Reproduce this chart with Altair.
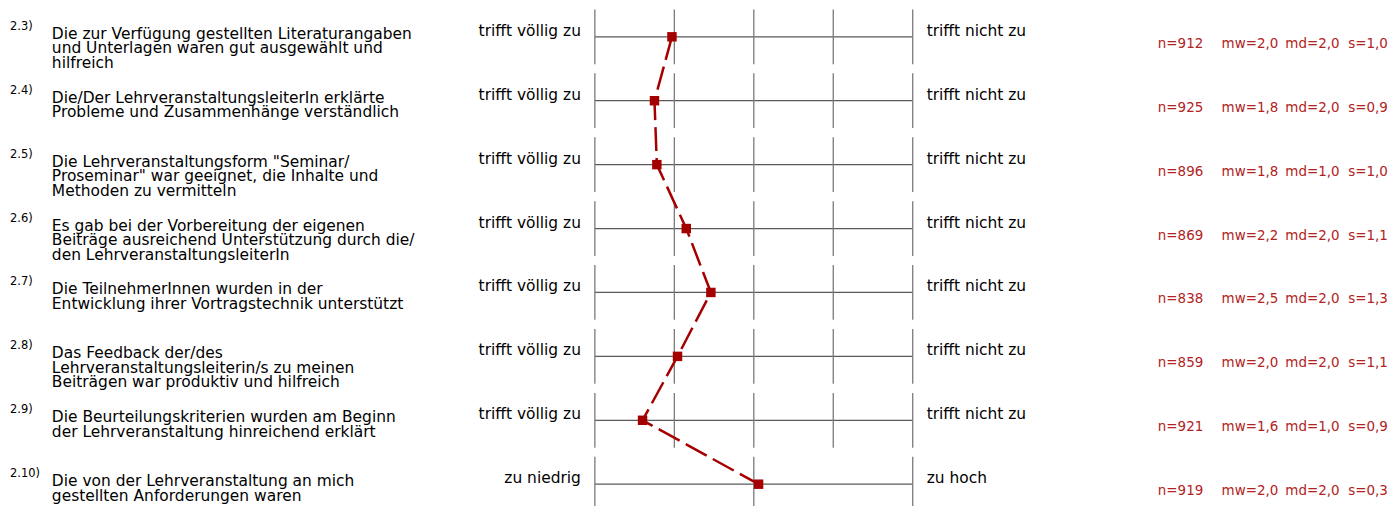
import altair as alt
import pandas as pd

numbers = ["2.3)", "2.4)", "2.5)", "2.6)", "2.7)", "2.8)", "2.9)", "2.10)"]
questions = [
    "Die zur Verfügung gestellten Literaturangaben\nund Unterlagen waren gut ausgewählt und\nhilfreich",
    "Die/Der LehrveranstaltungsleiterIn erklärte\nProbleme und Zusammenhänge verständlich",
    "Die Lehrveranstaltungsform \"Seminar/\nProseminar\" war geeignet, die Inhalte und\nMethoden zu vermitteln",
    "Es gab bei der Vorbereitung der eigenen\nBeiträge ausreichend Unterstützung durch die/\nden LehrveranstaltungsleiterIn",
    "Die TeilnehmerInnen wurden in der\nEntwicklung ihrer Vortragstechnik unterstützt",
    "Das Feedback der/des\nLehrveranstaltungsleiterin/s zu meinen\nBeiträgen war produktiv und hilfreich",
    "Die Beurteilungskriterien wurden am Beginn\nder Lehrveranstaltung hinreichend erklärt",
    "Die von der Lehrveranstaltung an mich\ngestellten Anforderungen waren",
]
left_labels = ["trifft völlig zu"] * 7 + ["zu niedrig"]
right_labels = ["trifft nicht zu"] * 7 + ["zu hoch"]
scale_points = [5, 5, 5, 5, 5, 5, 5, 3]
means = [1.97, 1.75, 1.78, 2.15, 2.46, 2.04, 1.60, 2.03]
n_values = [912, 925, 896, 869, 838, 859, 921, 919]
mw_values = [2.0, 1.8, 1.8, 2.2, 2.5, 2.0, 1.6, 2.0]
md_values = [2.0, 2.0, 1.0, 2.0, 2.0, 2.0, 1.0, 2.0]
s_values = [1.0, 0.9, 1.0, 1.1, 1.3, 1.1, 0.9, 0.3]


def de(v):
    return f"{v:.1f}".replace(".", ",")


df = pd.DataFrame({
    "row": list(range(len(questions))),
    "num": numbers,
    "q": questions,
    "left": left_labels,
    "right": right_labels,
    "points": scale_points,
    "mean": means,
    "n_txt": [f"n={n}" for n in n_values],
    "mw_txt": [f"mw={de(v)}" for v in mw_values],
    "md_txt": [f"md={de(v)}" for v in md_values],
    "s_txt": [f"s={de(v)}" for v in s_values],
})
df["pos"] = 1 + (df["mean"] - 1) * 4 / (df["points"] - 1)
df["lo"] = 1
df["hi"] = 5

ticks = pd.DataFrame([
    {"row": r, "pos": 1 + j * 4 / (k - 1)}
    for r, k in enumerate(scale_points) for j in range(k)
])

xs = alt.Scale(domain=[1, 5], range=[589, 908], nice=False, zero=False)
ys = alt.Scale(domain=[0, 7], range=[28, 477], nice=False, zero=False)
X = alt.X("pos:Q", scale=xs, axis=None)
Y = alt.Y("row:Q", scale=ys, axis=None)

FONT = "DejaVu Sans"
base = alt.Chart(df)

hlines = base.mark_rule(color="#5a5a5a", strokeWidth=1.3).encode(
    x=alt.X("lo:Q", scale=xs, axis=None), x2="hi:Q", y=Y
)
vticks = alt.Chart(ticks).mark_tick(
    orient="vertical", size=55, thickness=1.3, color="#7a7a7a", opacity=1
).encode(x=X, y=Y)

line = base.mark_line(color="#a50000", strokeWidth=2.5, strokeDash=[24, 7]).encode(
    x=X, y=Y, order=alt.Order("row:Q")
)
pts = base.mark_square(size=90, color="#a50000", opacity=1, filled=True).encode(x=X, y=Y)

num_txt = base.mark_text(
    align="left", baseline="alphabetic", font=FONT, fontSize=11.5, color="#000000", dy=-7
).encode(x=alt.value(2), y=Y, text="num:N")
q_txt = base.mark_text(
    align="left", baseline="alphabetic", font=FONT, fontSize=15.5, lineHeight=14.6,
    lineBreak="\n", color="#000000", dy=2
).encode(x=alt.value(44), y=Y, text="q:N")
left_txt = base.mark_text(
    align="right", baseline="alphabetic", font=FONT, fontSize=15.5, color="#000000", dy=-1
).encode(x=alt.value(575), y=Y, text="left:N")
right_txt = base.mark_text(
    align="left", baseline="alphabetic", font=FONT, fontSize=15.5, color="#000000", dy=-1
).encode(x=alt.value(922), y=Y, text="right:N")

stat_layers = []
for field, xpos in [("n_txt", 1154), ("mw_txt", 1218), ("md_txt", 1282), ("s_txt", 1345)]:
    stat_layers.append(
        base.mark_text(
            align="left", baseline="alphabetic", font=FONT, fontSize=13.5, color="#b22222", dy=11
        ).encode(x=alt.value(xpos), y=Y, text=f"{field}:N")
    )

chart = alt.layer(
    hlines, vticks, line, pts, num_txt, q_txt, left_txt, right_txt, *stat_layers
).properties(width=1380, height=505, padding=0).configure_view(strokeWidth=0)

chart.save("out.html", embed_options={"renderer": "svg", "actions": False})
